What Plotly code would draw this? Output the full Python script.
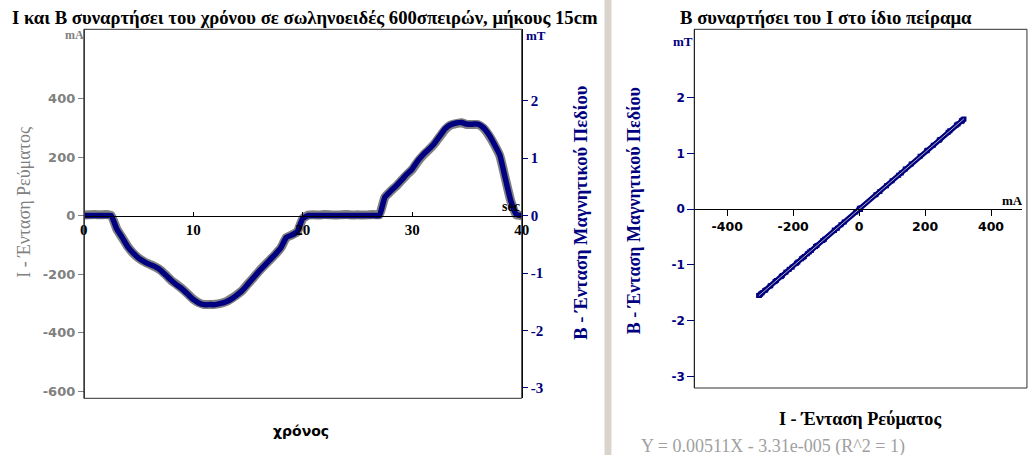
import plotly.graph_objects as go

W, H = 1029, 455

# ---------------- data ----------------
time_s = [0.0, 0.5, 1.0, 1.5, 2.0, 2.5, 3.0, 3.5, 4.0, 4.5,
          5.0, 5.5, 6.0, 6.5, 7.0, 7.5, 8.0, 8.5, 9.0, 9.5,
          10.0, 10.5, 11.0, 11.5, 12.0, 12.5, 13.0, 13.5, 14.0, 14.5,
          15.0, 15.5, 16.0, 16.5, 17.0, 17.5, 18.0, 18.5, 19.0, 19.5,
          20.0, 20.5, 21.0, 21.5, 22.0, 22.5, 23.0, 23.5, 24.0, 24.5,
          25.0, 25.5, 26.0, 26.5, 27.0, 27.5, 28.0, 28.5, 29.0, 29.5,
          30.0, 30.5, 31.0, 31.5, 32.0, 32.5, 33.0, 33.5, 34.0, 34.5,
          35.0, 35.5, 36.0, 36.5, 37.0, 37.5, 38.0, 38.5, 39.0, 39.5,
          40.0]

current_mA = [2, 3, 4, 3, 4, 1, -45, -75, -105, -128,
              -145, -157, -166, -175, -186, -203, -222, -236, -251, -268,
              -286, -298, -304, -304, -303, -300, -294, -283, -270, -255,
              -233, -212, -190, -170, -151, -132, -110, -75, -66, -55,
              -10, 2, 3, 2, 4, 3, 2, 3, 4, 2,
              3, 2, 3, 4, 3, 63, 83, 100, 120, 140,
              158, 185, 207, 225, 245, 270, 295, 310, 315, 318,
              312, 312, 312, 300, 275, 243, 205, 128, 51, 3,
              0]

field_mT = [0.00, 0.00, 0.00, 0.00, 0.00, 0.00, -0.23, -0.38, -0.54, -0.65,
            -0.74, -0.80, -0.85, -0.89, -0.95, -1.04, -1.13, -1.21, -1.28, -1.37,
            -1.46, -1.52, -1.55, -1.55, -1.55, -1.53, -1.50, -1.45, -1.38, -1.30,
            -1.19, -1.08, -0.97, -0.87, -0.77, -0.67, -0.56, -0.38, -0.34, -0.28,
            -0.05, 0.00, 0.00, 0.00, 0.00, 0.00, 0.00, 0.00, 0.00, 0.00,
            0.00, 0.00, 0.00, 0.00, 0.00, 0.32, 0.42, 0.51, 0.61, 0.72,
            0.81, 0.95, 1.06, 1.15, 1.25, 1.38, 1.51, 1.58, 1.61, 1.62,
            1.59, 1.59, 1.59, 1.53, 1.41, 1.24, 1.05, 0.65, 0.26, 0.02,
            0.00]

fit_slope = 0.00511
fit_intercept = -3.31e-5

t_ticks = [0, 10, 20, 30, 40]
t_ticktext = ["0", "10", "20", "30", "40"]
i_ticks = [-600, -400, -200, 0, 200, 400]
i_ticktext = ["-600", "-400", "-200", "0", "200", "400"]
b_ticks = [-3, -2, -1, 0, 1, 2]
b_ticktext = ["-3", "-2", "-1", "0", "1", "2"]
ix_ticks = [-400, -200, 0, 200, 400]
ix_ticktext = ["-400", "-200", "0", "200", "400"]

title_left = "Ι και Β συναρτήσει του χρόνου σε σωληνοειδές 600σπειρών, μήκους 15cm"
title_right = "Β συναρτήσει του Ι στο ίδιο πείραμα"
label_I = "I - Ένταση Ρεύματος"
label_B = "B - Ένταση Μαγνητικού Πεδίου"
label_t = "χρόνος"
eq_text = "Y = 0.00511X - 3.31e-005 (R^2 = 1)"

# ---------------- styling ----------------
NAVY = "#000080"
GRAY = "#808080"
SERIF = "Liberation Serif"
SANS = "DejaVu Sans"


def px(x):
    return x / W


def py(y):
    return 1 - y / H


# left panel geometry (pixels)
L_x0, L_x1, L_y0, L_y1 = 80.7, 523.3, 29.3, 398.3
# right panel geometry (pixels)
R_x0, R_x1, R_y0, R_y1 = 697.7, 1029.0, 29.3, 388.0

fig = go.Figure()

fig.add_trace(go.Scatter(
    x=time_s, y=current_mA, mode="lines",
    line=dict(color=GRAY, width=9, shape="spline", smoothing=0.4), xaxis="x", yaxis="y",
    hoverinfo="skip", showlegend=False))
fig.add_trace(go.Scatter(
    x=time_s, y=field_mT, mode="lines",
    line=dict(color=NAVY, width=5.5, shape="spline", smoothing=0.4), xaxis="x", yaxis="y2",
    showlegend=False))

fig.add_trace(go.Scatter(
    x=current_mA, y=field_mT, mode="lines+markers",
    line=dict(color=NAVY, width=5), marker=dict(color=NAVY, size=5, symbol="square"),
    xaxis="x3", yaxis="y3", showlegend=False))

fit_x = [min(current_mA), max(current_mA)]
fit_y = [fit_slope * v + fit_intercept for v in fit_x]
fig.add_trace(go.Scatter(
    x=fit_x, y=fit_y, mode="lines",
    line=dict(color="#b0b0b0", width=1), xaxis="x3", yaxis="y3",
    showlegend=False))

common = dict(showgrid=False, zeroline=False)

fig.update_layout(
    width=W, height=H, autosize=False,
    margin=dict(l=0, r=0, t=0, b=0),
    paper_bgcolor="white", plot_bgcolor="white",
    showlegend=False,
    xaxis=dict(domain=[px(L_x0), px(L_x1)], range=[0, 40], anchor="free",
               position=py(215.7), showline=True, linecolor="black", linewidth=1,
               ticks="inside", ticklen=4, tickcolor="black",
               tickvals=t_ticks, ticktext=t_ticktext,
               tickfont=dict(family=SERIF, size=15, color="black", weight="bold"),
               **common),
    yaxis=dict(domain=[py(L_y1), py(L_y0)], range=[-625, 638], anchor="free",
               position=px(L_x0), showline=True, linecolor="#404040", linewidth=1,
               ticks="outside", ticklen=6, tickcolor=GRAY,
               tickvals=i_ticks, ticktext=i_ticktext,
               tickfont=dict(family=SANS, size=13, color=GRAY, weight="bold"),
               **common),
    yaxis2=dict(domain=[py(L_y1), py(L_y0)], range=[-3.18, 3.24], anchor="free",
                overlaying="y", side="right", position=px(L_x1),
                showline=True, linecolor="black", linewidth=1,
                ticks="outside", ticklen=5, tickcolor=NAVY,
                tickvals=b_ticks, ticktext=b_ticktext,
                tickfont=dict(family=SERIF, size=15, color=NAVY, weight="bold"),
                **common),
    xaxis3=dict(domain=[px(R_x0), 1.0], range=[-500, 494], anchor="free",
                position=py(209.3), showline=True, linecolor="black", linewidth=1,
                ticks="outside", ticklen=6, tickcolor="black",
                tickvals=ix_ticks, ticktext=ix_ticktext,
                tickfont=dict(family=SANS, size=12.5, color="black", weight="bold"),
                **common),
    yaxis3=dict(domain=[py(R_y1), py(R_y0)], range=[-3.21, 3.23], anchor="free",
                position=px(R_x0), showline=True, linecolor="black", linewidth=1,
                ticks="outside", ticklen=7, tickcolor=NAVY,
                tickvals=b_ticks, ticktext=b_ticktext,
                tickfont=dict(family=SANS, size=12, color=NAVY, weight="bold"),
                **common),
)

shapes = [
    dict(type="rect", xref="paper", yref="paper", x0=px(L_x0), x1=px(L_x1),
         y0=py(L_y1), y1=py(L_y0), line=dict(color="#303030", width=1), layer="above"),
    dict(type="rect", xref="paper", yref="paper", x0=px(R_x0), x1=px(R_x1 + 5),
         y0=py(R_y1), y1=py(R_y0), line=dict(color="#303030", width=1), layer="above"),
    dict(type="rect", xref="paper", yref="paper", x0=px(607), x1=px(614),
         y0=0, y1=1, line=dict(width=0), fillcolor="#d8d4cc", layer="above"),
]
fig.update_layout(shapes=shapes)


def ann(text, x, y, size, color="black", family=SERIF, bold=False, angle=0,
        xanchor="center", yanchor="middle"):
    fig.add_annotation(text=text, x=px(x), y=py(y), xref="paper", yref="paper",
                       showarrow=False, textangle=angle, xanchor=xanchor, yanchor=yanchor,
                       font=dict(family=family, size=size, color=color,
                                 weight="bold" if bold else "normal"))


ann(title_left, 6, 18, 18.7, bold=True, xanchor="left")
ann(title_right, 681, 18, 18.7, bold=True, xanchor="left")
ann("mA", 71, 35, 12, color=GRAY, bold=True)
ann("mT", 538, 36, 13, color=NAVY, bold=True)
ann("sec", 512, 207, 14, bold=True)
ann(label_I, 20, 202, 18, color=GRAY, angle=-90)
ann(label_B, 583, 213, 18.5, color=NAVY, bold=True, angle=-90)
ann(label_t, 300, 431, 14, family=SANS, bold=True)
ann("mT", 686, 41, 13, color=NAVY, bold=True)
ann(label_B, 637, 211, 18, color=NAVY, bold=True, angle=-90)
ann("mA", 1007, 200, 13, bold=True, xanchor="left")
ann(label_I, 865, 419, 18.2, bold=True)
ann(eq_text, 642, 446, 18, color="#a0a0a0", xanchor="left")

fig.write_html("out.html", config={"displayModeBar": False},
               post_script="document.body.style.margin='0';")
